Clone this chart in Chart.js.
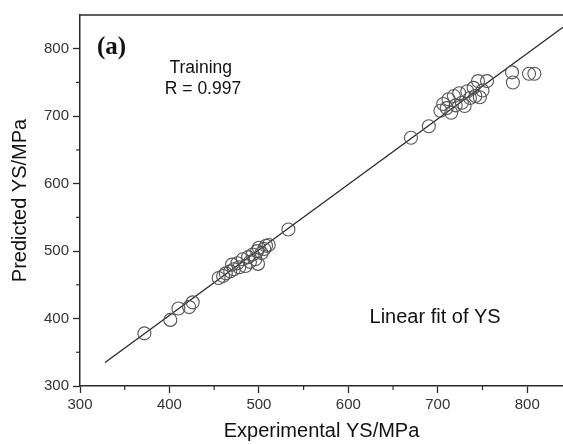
<!DOCTYPE html>
<html><head><meta charset="utf-8">
<script src="https://cdn.jsdelivr.net/npm/chart.js@4"></script>
<style>html,body{margin:0;padding:0;background:#fff}</style>
</head><body>
<canvas id="c" width="563" height="444"></canvas>
<script>
const xMajorTicks = [300, 400, 500, 600, 700, 800];
const xMinorTicks = [350, 450, 550, 650, 750];
const yMajorTicks = [300, 400, 500, 600, 700, 800];
const yMinorTicks = [350, 450, 550, 650, 750];

const experimentalYS = [372, 401, 410, 422, 426,
  455, 460, 463, 468, 470, 472, 476, 478, 482, 485, 488, 490, 493, 496, 498, 499, 500, 503, 506, 508, 511, 533,
  670, 690, 703, 706, 710, 712, 715, 718, 720, 724, 727, 730, 733, 736, 740, 742, 745, 747, 750, 755, 783, 784, 802, 808];
const predictedYS = [378, 398, 415, 417, 424,
  460, 463, 467, 470, 480, 473, 482, 476, 488, 478, 491, 484, 495, 488, 500, 481, 505, 497, 503, 508, 509, 532,
  668, 685, 708, 718, 712, 725, 705, 730, 716, 734, 720, 715, 737, 727, 742, 730, 752, 728, 738, 752, 765, 750, 763, 763];

const fitX = [328, 840];
const fitY = [335, 832];

const annotations = [
  {text: '(a)', x: 319, y: 802, font: 'bold 25px "Liberation Serif", serif', align: 'left'},
  {text: 'Training', x: 435, y: 771, font: '17.5px "Liberation Sans", Arial, sans-serif', align: 'center'},
  {text: 'R = 0.997', x: 437.5, y: 740, font: '17.5px "Liberation Sans", Arial, sans-serif', align: 'center'},
  {text: 'Linear fit of YS', x: 697, y: 402, font: '20px "Liberation Sans", Arial, sans-serif', align: 'center'}
];

const points = experimentalYS.map((v, i) => ({x: v, y: predictedYS[i]}));
const fitLine = fitX.map((v, i) => ({x: v, y: fitY[i]}));

const axisColor = '#2a2a2a';

const extras = {
  id: 'extras',
  afterDraw(chart) {
    const ctx = chart.ctx;
    const a = chart.chartArea;
    const xs = chart.scales.x, ys = chart.scales.y;
    ctx.save();
    ctx.strokeStyle = axisColor;
    ctx.lineWidth = 1.5;
    ctx.beginPath();
    ctx.moveTo(a.left, a.top);
    ctx.lineTo(a.right, a.top);
    ctx.stroke();
    ctx.lineWidth = 1.2;
    xMinorTicks.forEach(v => {
      const px = xs.getPixelForValue(v);
      ctx.beginPath(); ctx.moveTo(px, a.bottom); ctx.lineTo(px, a.bottom + 4); ctx.stroke();
    });
    yMinorTicks.forEach(v => {
      const py = ys.getPixelForValue(v);
      ctx.beginPath(); ctx.moveTo(a.left, py); ctx.lineTo(a.left - 4, py); ctx.stroke();
    });
    ctx.fillStyle = '#111';
    ctx.textBaseline = 'middle';
    annotations.forEach(t => {
      ctx.font = t.font;
      ctx.textAlign = t.align;
      ctx.fillText(t.text, xs.getPixelForValue(t.x), ys.getPixelForValue(t.y));
    });
    ctx.restore();
  }
};

new Chart(document.getElementById('c'), {
  type: 'scatter',
  data: {
    datasets: [
      {
        type: 'line', data: fitLine, borderColor: '#222', borderWidth: 1.2,
        pointRadius: 0, fill: false, tension: 0, order: 2
      },
      {
        data: points, pointRadius: 6.5, pointBorderColor: '#555', pointBorderWidth: 1.1,
        pointBackgroundColor: 'rgba(0,0,0,0)', order: 1
      }
    ]
  },
  options: {
    responsive: false,
    animation: false,
    layout: {autoPadding: false, padding: {top: 15, right: 0, left: 0, bottom: 0}},
    plugins: {legend: {display: false}, tooltip: {enabled: false}},
    scales: {
      x: {
        type: 'linear', min: 300, max: 840,
        afterBuildTicks: s => { s.ticks = xMajorTicks.map(v => ({value: v})); },
        afterFit: s => { s.height = 58; s.paddingRight = 0; s.paddingLeft = 0; },
        grid: {drawOnChartArea: false, drawTicks: true, tickLength: 7, tickColor: axisColor, tickWidth: 1.3},
        border: {display: true, color: axisColor, width: 1.5},
        ticks: {color: '#333', padding: 3, maxRotation: 0, font: {family: '"Liberation Sans", Arial, sans-serif', size: 15}},
        title: {display: true, text: 'Experimental YS/MPa', color: '#111', padding: {top: 0, bottom: 1},
          font: {family: '"Liberation Sans", Arial, sans-serif', size: 20}}
      },
      y: {
        type: 'linear', min: 300, max: 850,
        afterBuildTicks: s => { s.ticks = yMajorTicks.map(v => ({value: v})); },
        afterFit: s => { s.width = 80; s.paddingTop = 0; s.paddingBottom = 0; },
        grid: {drawOnChartArea: false, drawTicks: true, tickLength: 7, tickColor: axisColor, tickWidth: 1.3},
        border: {display: true, color: axisColor, width: 1.5},
        ticks: {color: '#333', padding: 4, font: {family: '"Liberation Sans", Arial, sans-serif', size: 15}},
        title: {display: true, text: 'Predicted YS/MPa', color: '#111', padding: {top: 8, bottom: 0},
          font: {family: '"Liberation Sans", Arial, sans-serif', size: 20}}
      }
    }
  },
  plugins: [extras]
});
</script>
</body></html>
